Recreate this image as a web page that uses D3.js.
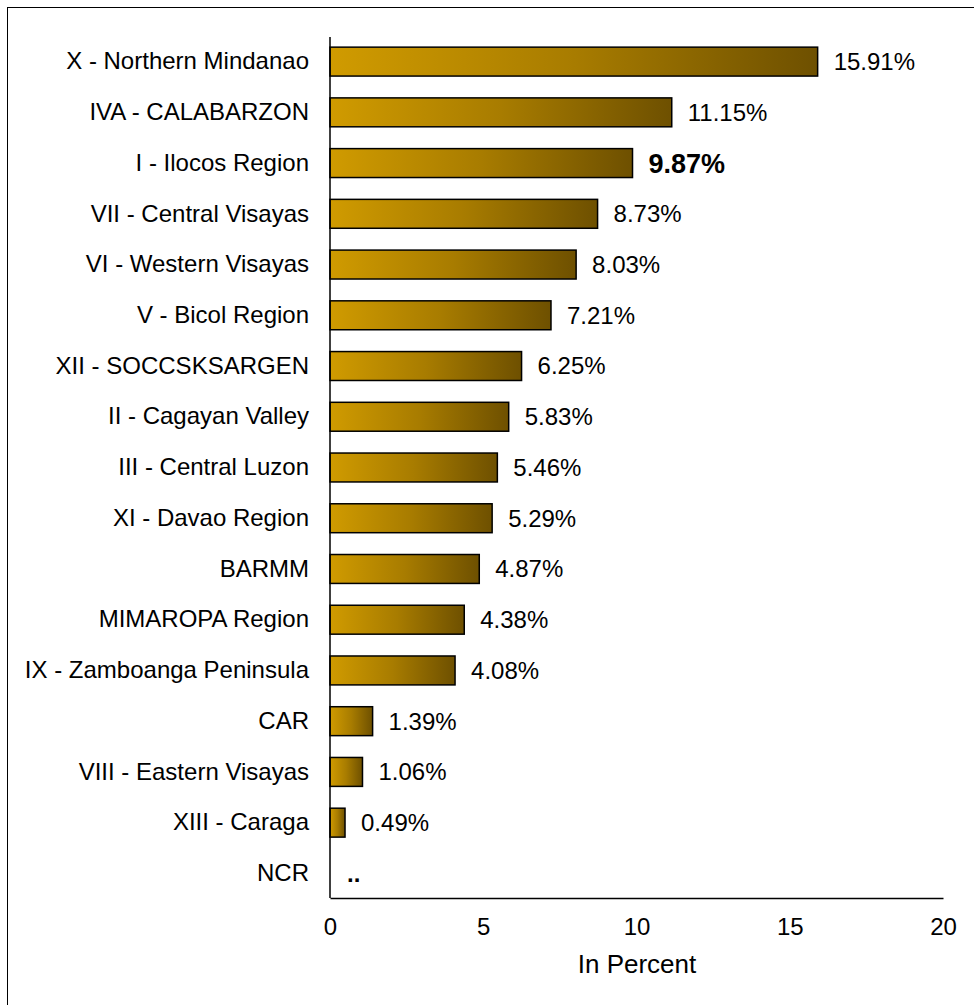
<!DOCTYPE html>
<html><head><meta charset="utf-8">
<script src="https://cdn.jsdelivr.net/npm/d3@7"></script>
<style>body{margin:0;background:#fff;}svg{display:block;font-family:"Liberation Sans",Arial,sans-serif;}</style>
</head><body>
<script>
const regions = ["X - Northern Mindanao","IVA - CALABARZON","I - Ilocos Region","VII - Central Visayas","VI - Western Visayas","V - Bicol Region","XII - SOCCSKSARGEN","II - Cagayan Valley","III - Central Luzon","XI - Davao Region","BARMM","MIMAROPA Region","IX - Zamboanga Peninsula","CAR","VIII - Eastern Visayas","XIII - Caraga","NCR"];
const values = [15.91,11.15,9.87,8.73,8.03,7.21,6.25,5.83,5.46,5.29,4.87,4.38,4.08,1.39,1.06,0.49,null];
const valueLabels = ["15.91%","11.15%","9.87%","8.73%","8.03%","7.21%","6.25%","5.83%","5.46%","5.29%","4.87%","4.38%","4.08%","1.39%","1.06%","0.49%",".."];
const highlight = "I - Ilocos Region";
const xTicks = [0,5,10,15,20];
const xTitle = "In Percent";

const W=974,H=1005;
const svg=d3.select("body").append("svg").attr("width",W).attr("height",H);
svg.append("rect").attr("x",7.5).attr("y",7.5).attr("width",1100).attr("height",1100).attr("fill","none").attr("stroke","#000").attr("stroke-width",1);

const defs=svg.append("defs");
const g=defs.append("linearGradient").attr("id","gold").attr("x1","0").attr("x2","1").attr("y1","0").attr("y2","0");
g.append("stop").attr("offset","0").attr("stop-color","#d09b00");
g.append("stop").attr("offset","0.5").attr("stop-color","#a87c00");
g.append("stop").attr("offset","1").attr("stop-color","#6e5000");

const x0=330,x1=943,yTop=37,yBot=898;
const x=d3.scaleLinear().domain([0,20]).range([x0,x1]);
const y=d3.scaleBand().domain(regions).range([yTop,yBot]).paddingInner(0.43).paddingOuter(0.2);

const data=regions.map((r,i)=>({r,v:values[i],l:valueLabels[i]}));

svg.selectAll("rect.bar").data(data.filter(d=>d.v!=null)).enter().append("rect")
 .attr("class","bar").attr("x",x(0)).attr("y",d=>y(d.r)).attr("width",d=>x(d.v)-x(0)).attr("height",y.bandwidth())
 .attr("fill","url(#gold)").attr("stroke","#000").attr("stroke-width",1.5);

svg.selectAll("text.val").data(data).enter().append("text")
 .attr("x",d=>x(d.v==null?0:d.v)+(d.v==null?17:16))
 .attr("y",d=>y(d.r)+y.bandwidth()/2)
 .attr("dy","0.35em")
 .attr("font-size",d=>d.r===highlight?27:24)
 .attr("font-weight",d=>(d.r===highlight||d.v==null)?"bold":"normal")
 .text(d=>d.l);

// y axis
const ya=svg.append("g").attr("transform",`translate(${x0},0)`).call(d3.axisLeft(y).tickSize(0).tickPadding(21));
ya.select(".domain").attr("d",`M0,${yTop}V${yBot}`).attr("stroke","#000").attr("stroke-width",1.5);
ya.selectAll("text").attr("font-size",24).attr("font-family","Liberation Sans, Arial, sans-serif").attr("fill","#000");

// x axis
const xa=svg.append("g").attr("transform",`translate(0,${yBot})`).call(d3.axisBottom(x).tickValues(xTicks).tickSize(0).tickPadding(20).tickFormat(d3.format("d")));
xa.select(".domain").attr("stroke","#000").attr("stroke-width",1.5);
xa.selectAll("text").attr("font-size",24).attr("font-family","Liberation Sans, Arial, sans-serif").attr("fill","#000");

svg.append("text").attr("x",637).attr("y",973).attr("text-anchor","middle").attr("font-size",26).text(xTitle);
</script>
</body></html>
